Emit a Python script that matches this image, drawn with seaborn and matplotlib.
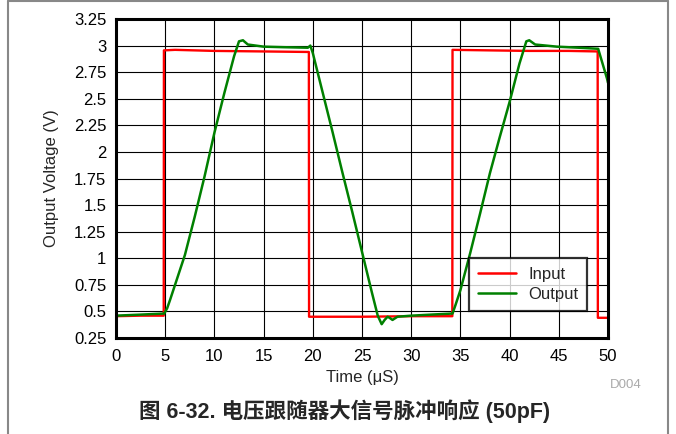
import matplotlib.pyplot as plt
import pandas as pd
import seaborn as sns
from matplotlib.lines import Line2D

# values
time_in = [0, 2.5, 4.85, 4.87, 6, 10, 15, 19.6, 19.62, 25, 30, 34.18, 34.2, 38, 42, 46, 48.95, 48.97, 50]
volt_in = [0.455, 0.46, 0.46, 2.955, 2.96, 2.95, 2.945, 2.94, 0.45, 0.45, 0.455, 0.455, 2.96, 2.955, 2.95, 2.95, 2.945, 0.44, 0.44]

time_out = [0, 2.5, 4.9, 5.2, 5.5, 6, 7, 8, 9, 10, 11, 12, 12.5, 12.9, 13.4, 15, 17, 19.5, 19.75, 20,
            21, 22, 23, 24, 25, 26, 26.6, 27.0, 27.3, 27.6, 27.8, 28.1, 28.6, 30, 32, 34.2, 34.5,
            35, 36, 37, 38, 39, 40, 41, 41.7, 42.0, 42.6, 44.8, 47, 49.0, 49.9, 50]
volt_out = [0.46, 0.47, 0.48, 0.53, 0.61, 0.75, 1.03, 1.39, 1.77, 2.18, 2.55, 2.90, 3.04, 3.05, 3.01, 2.99, 2.985, 2.98, 3.0, 2.93,
            2.56, 2.19, 1.81, 1.44, 1.06, 0.68, 0.46, 0.38, 0.42, 0.45, 0.44, 0.42, 0.45, 0.46, 0.47, 0.48, 0.56,
            0.70, 1.05, 1.42, 1.80, 2.14, 2.47, 2.83, 3.04, 3.05, 3.01, 2.99, 2.98, 2.97, 2.69, 2.65]

x_ticks = [0, 5, 10, 15, 20, 25, 30, 35, 40, 45, 50]
y_ticks = [0.25, 0.5, 0.75, 1, 1.25, 1.5, 1.75, 2, 2.25, 2.5, 2.75, 3, 3.25]
y_tick_labels = ["0.25", "0.5", "0.75", "1", "1.25", "1.5", "1.75", "2", "2.25", "2.5", "2.75", "3", "3.25"]

df_in = pd.DataFrame({"t": time_in, "v": volt_in})
df_out = pd.DataFrame({"t": time_out, "v": volt_out})

sns.set_style("white")
plt.rcParams["font.family"] = ["Liberation Sans", "Noto Sans CJK SC", "DejaVu Sans"]

fig = plt.figure(figsize=(6.76, 4.34), dpi=100)
ax = fig.add_axes([0.1716, 0.2212, 0.7278, 0.735])

sns.lineplot(data=df_in, x="t", y="v", ax=ax, color="#ff0000", lw=1.7,
             label="Input", estimator=None, sort=False)
sns.lineplot(data=df_out, x="t", y="v", ax=ax, color="#008000", lw=1.8,
             label="Output", estimator=None, sort=False)

ax.set_xlim(0, 50)
ax.set_ylim(0.25, 3.25)
ax.set_xticks(x_ticks)
ax.set_yticks(y_ticks)
ax.set_yticklabels(y_tick_labels)
ax.tick_params(length=0, labelsize=12, colors="black")
ax.tick_params(axis="y", pad=7)
ax.tick_params(axis="x", pad=8)
ax.grid(True, color="black", lw=0.8)
ax.set_axisbelow(True)
for s in ax.spines.values():
    s.set_color("black")
    s.set_linewidth(2.2)

ax.set_xlabel("Time (μS)", fontsize=12, labelpad=4)
ax.set_ylabel("Output Voltage (V)", fontsize=12, labelpad=11)

leg = ax.legend(loc="lower right", bbox_to_anchor=(0.958, 0.085), borderaxespad=0,
                fontsize=12, frameon=True, fancybox=False, handlelength=2.3,
                handletextpad=0.7, borderpad=0.55, labelspacing=0.3)
leg.get_frame().set_edgecolor("black")
leg.get_frame().set_linewidth(1.6)
for h in leg.get_lines():
    h.set_linewidth(1.8)

fig.text(0.925, 0.113, "D004", color="#aaaaaa", fontsize=9.5, ha="center", va="center")
fig.text(0.51, 0.053, "图 6-32. 电压跟随器大信号脉冲响应 (50pF)", fontsize=15.5,
         fontweight="bold", ha="center", va="center")

# page frame
fig.add_artist(Line2D([0.012, 0.012], [0, 0.998], transform=fig.transFigure, color="#888888", lw=1.5))
fig.add_artist(Line2D([0.012, 0.988], [0.998, 0.998], transform=fig.transFigure, color="#888888", lw=1.5))
fig.add_artist(Line2D([0.988, 0.988], [0, 0.998], transform=fig.transFigure, color="#888888", lw=1.5))

fig.savefig("out.png", dpi=100)
